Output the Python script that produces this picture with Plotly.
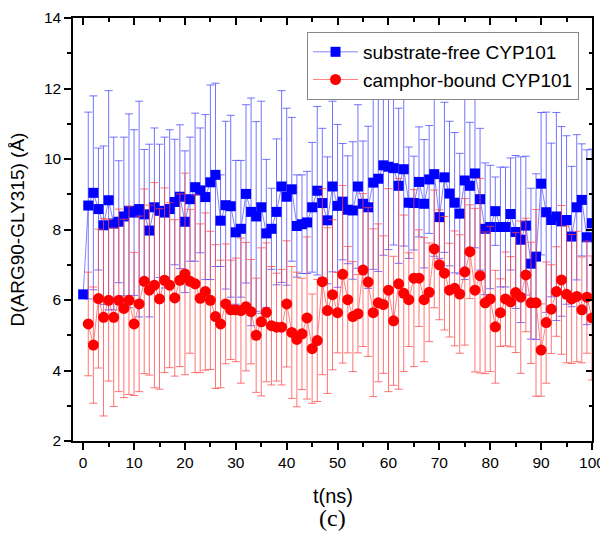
import plotly.graph_objects as go

# --- Data ---
t_ns = list(range(0, 101))

free_d = [
    6.16, 8.68, 9.04, 8.58, 8.12, 8.83, 8.17, 8.22, 8.37, 8.53,
    8.48, 8.58, 8.43, 7.97, 8.63, 8.53, 8.48, 8.58, 8.78, 8.93,
    8.22, 8.86, 9.20, 9.11, 8.92, 9.34, 9.55, 8.25, 8.69, 8.66,
    7.92, 8.02, 9.01, 8.50, 8.37, 8.63, 7.89, 8.02, 8.50, 9.22,
    8.93, 9.14, 8.10, 8.15, 8.20, 8.63, 9.10, 8.75, 8.26, 9.22,
    8.67, 8.79, 8.56, 8.54, 9.22, 8.73, 8.63, 9.33, 9.44, 9.82,
    9.78, 9.74, 9.24, 9.71, 8.76, 8.75, 9.35, 8.73, 9.42, 9.57,
    8.35, 9.48, 9.02, 8.76, 8.45, 9.39, 9.24, 9.59, 8.86, 8.02,
    8.07, 8.52, 8.07, 8.07, 8.44, 7.93, 7.71, 8.11, 7.03, 7.23,
    9.30, 8.49, 8.27, 8.37, 8.23, 8.27, 7.80, 8.63, 8.84, 7.78,
    8.18,
]
free_err = [
    0.00, 2.65, 2.75, 1.73, 2.25, 3.11, 2.45, 1.73, 2.25, 2.75,
    2.35, 3.06, 1.84, 2.45, 2.25, 1.89, 2.14, 2.25, 1.78, 2.04,
    2.01, 1.76, 2.10, 1.77, 2.34, 2.76, 2.60, 1.30, 2.38, 2.58,
    2.04, 1.94, 2.53, 3.23, 2.69, 3.01, 2.10, 1.15, 2.07, 2.72,
    2.51, 2.04, 1.45, 1.40, 1.45, 1.84, 2.39, 2.12, 1.80, 2.42,
    2.31, 1.65, 1.53, 1.95, 2.32, 1.78, 2.30, 2.46, 2.63, 2.55,
    2.35, 2.18, 2.20, 2.18, 1.58, 1.33, 1.56, 1.82, 1.53, 2.33,
    1.17, 2.13, 2.05, 1.99, 1.71, 2.81, 1.80, 2.11, 2.01, 1.87,
    1.75, 0.97, 1.70, 1.70, 1.59, 2.17, 2.35, 1.97, 2.14, 2.35,
    2.02, 2.84, 2.18, 2.95, 2.69, 2.39, 1.99, 2.06, 1.59, 2.48,
    2.10,
]

bound_d = [
    None, 5.32, 4.72, 6.04, 5.51, 5.99, 5.51, 5.99, 5.76, 5.99,
    5.32, 5.89, 6.53, 6.28, 6.42, 6.03, 6.56, 6.42, 6.06, 6.56,
    6.74, 6.53, 6.46, 6.05, 6.24, 5.99, 5.53, 5.32, 5.89, 5.72,
    5.72, 5.70, 5.81, 5.67, 5.00, 5.38, 5.65, 5.27, 5.23, 5.23,
    5.89, 5.08, 4.88, 5.04, 5.49, 4.62, 4.85, 6.52, 5.70, 6.15,
    5.64, 6.73, 6.01, 5.53, 5.61, 6.85, 6.51, 5.64, 5.92, 5.87,
    6.28, 5.41, 6.46, 6.19, 6.01, 6.62, 6.62, 6.01, 6.22, 7.45,
    7.00, 6.76, 6.28, 6.33, 6.17, 6.80, 7.37, 6.28, 6.69, 5.92,
    6.03, 5.24, 5.64, 6.03, 5.95, 6.21, 6.08, 6.71, 5.92, 5.92,
    4.58, 5.36, 5.74, 6.24, 6.57, 6.16, 6.03, 6.10, 5.72, 6.08,
    5.49,
]
bound_err = [
    0.00, 1.47, 1.65, 1.97, 2.80, 2.29, 2.53, 2.59, 2.53, 2.67,
    2.03, 2.49, 2.62, 2.41, 2.91, 2.56, 2.62, 2.34, 2.22, 2.45,
    2.86, 2.04, 2.52, 2.11, 2.23, 1.96, 2.04, 1.81, 1.70, 1.41,
    1.47, 2.06, 1.82, 1.48, 1.62, 2.10, 1.97, 1.68, 1.53, 1.64,
    1.79, 1.87, 1.91, 1.58, 2.30, 1.55, 1.73, 2.64, 2.35, 2.13,
    1.14, 2.52, 1.51, 1.56, 1.11, 2.17, 2.11, 2.38, 2.24, 1.95,
    2.88, 1.83, 2.99, 2.22, 1.33, 2.51, 1.37, 1.76, 1.40, 1.67,
    1.56, 1.61, 1.33, 1.63, 1.68, 2.08, 1.33, 2.32, 2.76, 2.01,
    2.06, 1.60, 0.96, 1.33, 1.28, 1.70, 2.16, 1.61, 1.72, 2.65,
    1.31, 1.72, 1.26, 1.27, 2.11, 1.94, 1.83, 1.85, 1.50, 1.59,
    1.76,
]

FONT = "Arial, Liberation Sans, sans-serif"

fig = go.Figure()

fig.add_trace(go.Scatter(
    x=t_ns, y=free_d,
    mode="lines+markers",
    name="substrate-free CYP101",
    line=dict(color="rgba(90,90,255,0.75)", width=1),
    marker=dict(symbol="square", size=10, color="#0000ff"),
    error_y=dict(type="data", array=free_err, visible=True,
                 color="rgba(70,70,255,0.75)", thickness=1, width=4),
))

fig.add_trace(go.Scatter(
    x=t_ns, y=bound_d,
    mode="lines+markers",
    name="camphor-bound CYP101",
    line=dict(color="rgba(255,90,90,0.75)", width=1),
    marker=dict(symbol="circle", size=11, color="#ff0000"),
    error_y=dict(type="data", array=bound_err, visible=True,
                 color="rgba(255,70,70,0.75)", thickness=1, width=4),
))

# dummy trace so the mirrored top/right axes are drawn
fig.add_trace(go.Scatter(x=[None], y=[None], xaxis="x2", yaxis="y2",
                         showlegend=False, hoverinfo="skip"))

tick_style = dict(showline=True, linecolor="black", linewidth=1.5,
                  tickwidth=1.5, tickcolor="black",
                  showgrid=False, zeroline=False, automargin=False)

# the page body adds an 8px margin, so the figure is 8px smaller on each side
fig.update_layout(
    width=600, height=524,
    margin=dict(l=65, r=16, t=10, b=91),
    paper_bgcolor="white", plot_bgcolor="white",
    font=dict(family=FONT, size=15.5, color="black"),
    showlegend=True,
    legend=dict(
        x=0.975, y=0.967, xanchor="right", yanchor="top",
        bordercolor="#888888", borderwidth=1, bgcolor="white",
        font=dict(family=FONT, size=19), tracegroupgap=0,
        itemwidth=45,
    ),
    xaxis=dict(
        range=[-2, 100], dtick=10, tick0=0, ticks="outside", ticklen=7,
        minor=dict(ticks="outside", ticklen=4, dtick=5, tickcolor="black", tickwidth=1.5),
        tickfont=dict(size=15.5), **tick_style,
    ),
    yaxis=dict(
        range=[2, 14], dtick=2, ticks="outside", ticklen=7,
        minor=dict(ticks="outside", ticklen=4, dtick=1, tickcolor="black", tickwidth=1.5),
        tickfont=dict(size=15.5), **tick_style,
    ),
    xaxis2=dict(
        overlaying="x", side="top", range=[-2, 100], dtick=10, tick0=0,
        ticks="inside", ticklen=7, showticklabels=False,
        minor=dict(ticks="inside", ticklen=4, dtick=5, tickcolor="black", tickwidth=1.5),
        **tick_style,
    ),
    yaxis2=dict(
        overlaying="y", side="right", range=[2, 14], dtick=2,
        ticks="inside", ticklen=6, showticklabels=False,
        minor=dict(ticks="inside", ticklen=3, dtick=1, tickcolor="black", tickwidth=1.5),
        **tick_style,
    ),
)

fig.add_annotation(
    text="D(ARG90-GLY315) (Å)", xref="paper", yref="paper", x=-0.106, y=0.5,
    textangle=-90, xanchor="center", yanchor="middle", showarrow=False,
    font=dict(family=FONT, size=19),
)
fig.add_annotation(
    text="t(ns)", xref="paper", yref="paper", x=0.5, y=-0.13,
    xanchor="center", yanchor="middle", showarrow=False,
    font=dict(family=FONT, size=20),
)
fig.add_annotation(
    text="(c)", xref="paper", yref="paper", x=0.5, y=-0.183,
    xanchor="center", yanchor="middle", showarrow=False,
    font=dict(family="Times New Roman, Liberation Serif, serif", size=24),
)

fig.write_html("out.html")
